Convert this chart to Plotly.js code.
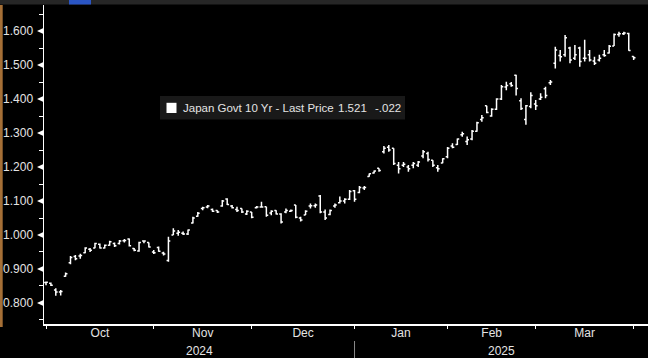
<!DOCTYPE html>
<html><head><meta charset="utf-8">
<script src="https://cdn.plot.ly/plotly-3.0.1.min.js"></script>
<style>html,body{margin:0;padding:0;background:#000;overflow:hidden}#chart{width:648px;height:358px}</style>
</head><body><div id="chart"></div><script>
const dates = [
'2024-10-01','2024-10-02','2024-10-03','2024-10-04','2024-10-07','2024-10-08','2024-10-09','2024-10-10','2024-10-11','2024-10-15','2024-10-16','2024-10-17','2024-10-18','2024-10-21','2024-10-22','2024-10-23','2024-10-24','2024-10-25','2024-10-28','2024-10-29','2024-10-30','2024-10-31',
'2024-11-01','2024-11-05','2024-11-06','2024-11-07','2024-11-08','2024-11-11','2024-11-12','2024-11-13','2024-11-14','2024-11-15','2024-11-18','2024-11-19','2024-11-20','2024-11-21','2024-11-22','2024-11-25','2024-11-26','2024-11-27','2024-11-28','2024-11-29',
'2024-12-02','2024-12-03','2024-12-04','2024-12-05','2024-12-06','2024-12-09','2024-12-10','2024-12-11','2024-12-12','2024-12-13','2024-12-16','2024-12-17','2024-12-18','2024-12-19','2024-12-20','2024-12-23','2024-12-24','2024-12-25','2024-12-26','2024-12-27','2024-12-30',
'2025-01-06','2025-01-07','2025-01-08','2025-01-09','2025-01-10','2025-01-14','2025-01-15','2025-01-16','2025-01-17','2025-01-20','2025-01-21','2025-01-22','2025-01-23','2025-01-24','2025-01-27','2025-01-28','2025-01-29','2025-01-30','2025-01-31',
'2025-02-03','2025-02-04','2025-02-05','2025-02-06','2025-02-07','2025-02-10','2025-02-12','2025-02-13','2025-02-14','2025-02-17','2025-02-18','2025-02-19','2025-02-20','2025-02-21','2025-02-25','2025-02-26','2025-02-27','2025-02-28',
'2025-03-03','2025-03-04','2025-03-05','2025-03-06','2025-03-07','2025-03-10','2025-03-11','2025-03-12','2025-03-13','2025-03-14','2025-03-17','2025-03-18','2025-03-19','2025-03-21','2025-03-24','2025-03-25','2025-03-26','2025-03-27','2025-03-28','2025-03-31',
'2025-04-01'];

const openVals = [
.860,.858,.838,.832,.879,.918,.937,.938,.948,.958,.962,.973,.962,.970,.975,.975,.983,.988,.960,.953,.982,.978,
.950,.963,.947,.925,1.000,1.005,1.005,1.003,1.035,1.055,1.078,1.082,1.075,1.072,1.085,1.106,1.085,1.075,1.078,1.062,
1.068,1.080,1.082,1.083,1.065,1.072,1.062,1.068,1.070,1.088,1.050,1.059,1.085,1.086,1.115,1.068,1.060,1.085,1.095,1.100,1.105,
1.130,1.125,1.138,1.172,1.182,1.196,1.245,1.258,1.255,1.205,1.205,1.200,1.205,1.205,1.232,1.240,1.220,1.198,1.212,
1.230,1.262,1.266,1.295,1.275,1.282,1.305,1.340,1.380,1.350,1.370,1.400,1.435,1.445,1.470,1.395,1.340,1.378,
1.385,1.400,1.430,1.448,1.505,1.528,1.530,1.550,1.520,1.550,1.520,1.530,1.512,1.515,1.530,1.535,1.556,1.590,1.592,1.593,
1.525];
const highVals = [
.863,.860,.843,.838,.890,.938,.941,.945,.964,.962,.977,.975,.972,.983,.978,.985,.988,.990,.962,.980,.984,.978,
.956,.966,.951,.995,1.020,1.015,1.010,1.016,1.054,1.068,1.083,1.088,1.078,1.073,1.103,1.108,1.088,1.083,1.078,1.073,
1.068,1.085,1.098,1.083,1.073,1.073,1.064,1.078,1.075,1.088,1.054,1.073,1.093,1.093,1.118,1.075,1.075,1.093,1.113,1.108,1.132,
1.132,1.144,1.144,1.181,1.190,1.196,1.262,1.265,1.255,1.215,1.215,1.206,1.215,1.218,1.250,1.245,1.220,1.206,1.226,
1.259,1.270,1.284,1.304,1.290,1.309,1.333,1.353,1.380,1.373,1.402,1.441,1.451,1.450,1.471,1.402,1.382,1.420,
1.397,1.417,1.436,1.456,1.554,1.544,1.588,1.554,1.559,1.554,1.574,1.544,1.524,1.530,1.544,1.559,1.593,1.598,1.598,1.595,
1.526];
const lowVals = [
.852,.850,.821,.822,.877,.914,.926,.930,.946,.950,.961,.960,.960,.968,.965,.972,.978,.966,.952,.951,.976,.963,
.944,.951,.940,.921,1.000,.998,1.000,1.000,1.034,1.054,1.073,1.079,1.068,1.065,1.083,1.088,1.078,1.068,1.065,1.059,
1.049,1.078,1.080,1.054,1.058,1.060,1.034,1.064,1.068,1.049,1.040,1.059,1.078,1.080,1.064,1.044,1.058,1.080,1.093,1.093,1.103,
1.098,1.123,1.132,1.171,1.181,1.186,1.240,1.245,1.206,1.181,1.200,1.186,1.196,1.200,1.226,1.216,1.200,1.186,1.211,
1.226,1.255,1.265,1.289,1.265,1.279,1.304,1.333,1.358,1.348,1.368,1.397,1.426,1.436,1.410,1.368,1.324,1.373,
1.368,1.397,1.402,1.441,1.490,1.510,1.524,1.505,1.515,1.495,1.510,1.510,1.500,1.510,1.524,1.534,1.556,1.583,1.588,1.542,
1.515];
const closeVals = [
.861,.852,.832,.834,.886,.934,.930,.940,.962,.955,.975,.962,.970,.980,.968,.982,.984,.968,.955,.978,.982,.965,
.948,.952,.944,.982,1.012,1.008,1.003,1.015,1.050,1.064,1.080,1.085,1.070,1.068,1.100,1.090,1.080,1.072,1.068,1.070,
1.052,1.082,1.082,1.058,1.070,1.062,1.038,1.072,1.072,1.052,1.044,1.070,1.086,1.088,1.068,1.050,1.072,1.088,1.100,1.105,1.128,
1.105,1.140,1.140,1.180,1.188,1.190,1.255,1.250,1.210,1.195,1.208,1.195,1.210,1.215,1.245,1.222,1.205,1.195,1.224,
1.255,1.258,1.282,1.298,1.280,1.305,1.330,1.345,1.360,1.370,1.400,1.436,1.440,1.440,1.431,1.372,1.380,1.410,
1.380,1.405,1.410,1.450,1.544,1.524,1.580,1.515,1.530,1.510,1.520,1.515,1.505,1.520,1.528,1.555,1.590,1.592,1.594,1.543,
1.521];

const yTicks = [0.8,0.9,1.0,1.1,1.2,1.3,1.4,1.5,1.6];
const monthNames = ['Jan','Feb','Mar','Apr','May','Jun','Jul','Aug','Sep','Oct','Nov','Dec'];
const seriesLabel = 'Japan Govt 10 Yr - Last Price';
const lastPriceText = '1.521';
const lastChangeText = '-.022';

// ---- derived positions (trading-day index axis, like the terminal chart) ----
const idx = dates.map((d, i) => i);
const xRange = [-0.41, 122.93];
const yRange = [0.7382, 1.6765];

const monthStarts = [], yearStarts = [];
dates.forEach((d, i) => {
  const p = i > 0 ? dates[i - 1] : null;
  if (!p || p.slice(0, 7) !== d.slice(0, 7)) monthStarts.push(i);
  if (p && p.slice(0, 4) !== d.slice(0, 4)) yearStarts.push(i);
});
const monthMids = [], monthText = [];
for (let k = 0; k < monthStarts.length - 1; k++) {
  monthMids.push((monthStarts[k] + monthStarts[k + 1]) / 2);
  monthText.push(monthNames[+dates[monthStarts[k]].slice(5, 7) - 1]);
}
const yearBounds = [xRange[0], ...yearStarts, xRange[1]];
const yearAnn = [];
const yearFirst = [0, ...yearStarts];
for (let k = 0; k < yearBounds.length - 1; k++) {
  yearAnn.push({x: (yearBounds[k] + yearBounds[k + 1]) / 2, text: dates[yearFirst[k]].slice(0, 4)});
}

// pixel helpers for decorations (plot area: l=44, t=5, w=604, h=319)
const W = 648, H = 358, L = 44, T = 5, PW = 604, PH = 319;
const px = v => (v - L) / PW;
const py = v => (T + PH - v) / PH;

const txt = '#e4e4e4';
const font = 'Liberation Sans, Arial, sans-serif';

const shapes = [];
// top toolbar strip
shapes.push({type:'rect', xref:'paper', yref:'paper', x0:px(0), x1:px(W), y0:py(0), y1:py(4.5), fillcolor:'#262626', line:{width:0}, layer:'above'});
shapes.push({type:'rect', xref:'paper', yref:'paper', x0:px(69), x1:px(91), y0:py(0), y1:py(4.5), fillcolor:'#2a55c4', line:{width:0}, layer:'above'});
// left orange frame line
shapes.push({type:'rect', xref:'paper', yref:'paper', x0:px(0), x1:px(2.7), y0:py(5), y1:py(327), fillcolor:'#a56f36', line:{width:0}});
// year separator below axis
yearStarts.forEach(i => shapes.push({type:'line', xref:'x', yref:'paper', x0:i, x1:i, y0:py(341), y1:py(358), line:{color:'#8a8a8a', width:1}}));
// tick triangles on y axis
const triH = 3.2 / (PH / (yRange[1] - yRange[0]));
yTicks.forEach(v => shapes.push({type:'path', xref:'paper', yref:'y',
  path:`M 0,${v - triH} L ${px(37) },${v} L 0,${v + triH} Z`, fillcolor:'#ffffff', line:{width:0}}));
// legend box
shapes.push({type:'rect', xref:'paper', yref:'paper', x0:px(160), x1:px(405), y0:py(96), y1:py(119.5), fillcolor:'#191919', line:{width:0}});
shapes.push({type:'rect', xref:'paper', yref:'paper', x0:px(166.5), x1:px(176.5), y0:py(102.8), y1:py(113), fillcolor:'#ffffff', line:{width:0}});

const annotations = [
  {xref:'paper', yref:'paper', x:px(181), y:py(108), xanchor:'left', yanchor:'middle', showarrow:false, text:seriesLabel, font:{family:font, size:11.5, color:txt}},
  {xref:'paper', yref:'paper', x:px(336), y:py(108), xanchor:'left', yanchor:'middle', showarrow:false, text:lastPriceText, font:{family:font, size:11.5, color:txt}},
  {xref:'paper', yref:'paper', x:px(372.5), y:py(108), xanchor:'left', yanchor:'middle', showarrow:false, text:lastChangeText, font:{family:font, size:11.5, color:txt}},
  ...yearAnn.map(a => ({xref:'x', yref:'paper', x:a.x, y:py(351), xanchor:'center', yanchor:'middle', showarrow:false, text:a.text, font:{family:font, size:12, color:txt}}))
];

const traces = [
  {type:'ohlc', x:idx, open:openVals, high:highVals, low:lowVals, close:closeVals,
   increasing:{line:{color:'#ffffff', width:1.5}}, decreasing:{line:{color:'#ffffff', width:1.5}},
   tickwidth:0.38, hoverinfo:'skip', showlegend:false},
  {type:'scatter', x:[], y:[], xaxis:'x2', yaxis:'y', showlegend:false, hoverinfo:'skip'}
];

const layout = {
  width:W, height:H, margin:{l:L, r:W - L - PW, t:T, b:H - T - PH, pad:0},
  paper_bgcolor:'#000', plot_bgcolor:'#000', showlegend:false,
  font:{family:font, size:12, color:txt},
  xaxis:{type:'linear', range:xRange, rangeslider:{visible:false}, showgrid:false, zeroline:false,
    showline:true, linecolor:'#ffffff', linewidth:1.5,
    tickmode:'array', tickvals:monthStarts, ticks:'outside', ticklen:3, tickcolor:'#ffffff', tickwidth:1,
    showticklabels:false, fixedrange:true},
  xaxis2:{type:'linear', range:xRange, overlaying:'x', anchor:'y', side:'bottom', showgrid:false, zeroline:false,
    showline:false, tickmode:'array', tickvals:monthMids, ticktext:monthText, ticks:'', 
    tickfont:{family:font, size:12, color:txt}, fixedrange:true},
  yaxis:{type:'linear', range:yRange, showgrid:false, zeroline:false, showline:true, linecolor:'#ffffff', linewidth:1.5,
    tickmode:'array', tickvals:yTicks, tickformat:'.3f', ticks:'outside', ticklen:7, tickcolor:'rgba(0,0,0,0)',
    minor:{ticks:'outside', ticklen:4, tickcolor:'#ffffff', tickwidth:1, dtick:0.05, tick0:0.75, showgrid:false},
    tickfont:{family:font, size:12, color:txt}, fixedrange:true},
  shapes, annotations
};

Plotly.newPlot('chart', traces, layout, {displayModeBar:false, staticPlot:true});
</script></body></html>
